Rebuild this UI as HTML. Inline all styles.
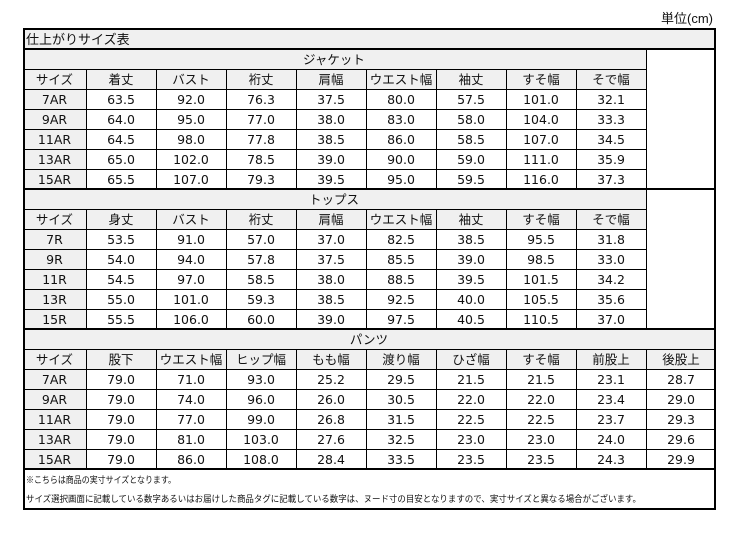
<!DOCTYPE html>
<html><head><meta charset="utf-8"><style>
html,body{margin:0;padding:0;background:#fff;}
svg{display:block;}
text{font-family:"Liberation Sans","Noto Sans CJK JP",sans-serif;fill:#111;}
.c{text-anchor:middle;font-size:12.5px;font-family:"DejaVu Sans","Noto Sans CJK JP",sans-serif;}
.h{text-anchor:middle;font-size:12.5px;}
</style></head><body>
<svg width="739" height="533" viewBox="0 0 739 533" xmlns="http://www.w3.org/2000/svg">
<rect x="23" y="29" width="693" height="20" fill="#f0f0f0"/>
<rect x="23" y="49" width="623" height="40" fill="#f0f0f0"/>
<rect x="23" y="89" width="63" height="100" fill="#f0f0f0"/>
<rect x="23" y="189" width="623" height="40" fill="#f0f0f0"/>
<rect x="23" y="229" width="63" height="100" fill="#f0f0f0"/>
<rect x="23" y="329" width="693" height="40" fill="#f0f0f0"/>
<rect x="23" y="369" width="63" height="100" fill="#f0f0f0"/>

<g stroke="#000" stroke-width="1" shape-rendering="crispEdges">
<line x1="23" y1="69.5" x2="646" y2="69.5"/>
<line x1="23" y1="89.5" x2="646" y2="89.5"/>
<line x1="23" y1="109.5" x2="646" y2="109.5"/>
<line x1="23" y1="129.5" x2="646" y2="129.5"/>
<line x1="23" y1="149.5" x2="646" y2="149.5"/>
<line x1="23" y1="169.5" x2="646" y2="169.5"/>
<line x1="23" y1="209.5" x2="646" y2="209.5"/>
<line x1="23" y1="229.5" x2="646" y2="229.5"/>
<line x1="23" y1="249.5" x2="646" y2="249.5"/>
<line x1="23" y1="269.5" x2="646" y2="269.5"/>
<line x1="23" y1="289.5" x2="646" y2="289.5"/>
<line x1="23" y1="309.5" x2="646" y2="309.5"/>
<line x1="23" y1="349.5" x2="716" y2="349.5"/>
<line x1="23" y1="369.5" x2="716" y2="369.5"/>
<line x1="23" y1="389.5" x2="716" y2="389.5"/>
<line x1="23" y1="409.5" x2="716" y2="409.5"/>
<line x1="23" y1="429.5" x2="716" y2="429.5"/>
<line x1="23" y1="449.5" x2="716" y2="449.5"/>
<line x1="86.5" y1="69" x2="86.5" y2="189"/><line x1="156.5" y1="69" x2="156.5" y2="189"/>
<line x1="226.5" y1="69" x2="226.5" y2="189"/><line x1="296.5" y1="69" x2="296.5" y2="189"/>
<line x1="366.5" y1="69" x2="366.5" y2="189"/><line x1="436.5" y1="69" x2="436.5" y2="189"/>
<line x1="506.5" y1="69" x2="506.5" y2="189"/><line x1="576.5" y1="69" x2="576.5" y2="189"/>
<line x1="646.5" y1="49" x2="646.5" y2="189"/>
<line x1="86.5" y1="209" x2="86.5" y2="329"/><line x1="156.5" y1="209" x2="156.5" y2="329"/>
<line x1="226.5" y1="209" x2="226.5" y2="329"/><line x1="296.5" y1="209" x2="296.5" y2="329"/>
<line x1="366.5" y1="209" x2="366.5" y2="329"/><line x1="436.5" y1="209" x2="436.5" y2="329"/>
<line x1="506.5" y1="209" x2="506.5" y2="329"/><line x1="576.5" y1="209" x2="576.5" y2="329"/>
<line x1="646.5" y1="189" x2="646.5" y2="329"/>
<line x1="86.5" y1="349" x2="86.5" y2="469"/><line x1="156.5" y1="349" x2="156.5" y2="469"/>
<line x1="226.5" y1="349" x2="226.5" y2="469"/><line x1="296.5" y1="349" x2="296.5" y2="469"/>
<line x1="366.5" y1="349" x2="366.5" y2="469"/><line x1="436.5" y1="349" x2="436.5" y2="469"/>
<line x1="506.5" y1="349" x2="506.5" y2="469"/><line x1="576.5" y1="349" x2="576.5" y2="469"/>
<line x1="646.5" y1="349" x2="646.5" y2="469"/>
</g>
<g stroke="#000" stroke-width="2" fill="none" shape-rendering="crispEdges">
<line x1="23" y1="49" x2="716" y2="49"/>
<line x1="23" y1="189" x2="716" y2="189"/>
<line x1="23" y1="329" x2="716" y2="329"/>
<line x1="23" y1="469" x2="716" y2="469"/>
<rect x="24" y="29" width="691" height="480"/>
</g>

<text x="713" y="23" style="font-size:13px;text-anchor:end">単位(cm)</text>
<text x="26" y="44" style="font-size:13px">仕上がりサイズ表</text>

<text class="h" x="334" y="64">ジャケット</text>
<text class="h" x="54.5" y="84">サイズ</text><text class="h" x="121" y="84">着丈</text><text class="h" x="191" y="84">バスト</text><text class="h" x="261" y="84">裄丈</text><text class="h" x="331" y="84">肩幅</text><text class="h" x="401" y="84">ウエスト幅</text><text class="h" x="471" y="84">袖丈</text><text class="h" x="541" y="84">すそ幅</text><text class="h" x="611" y="84">そで幅</text>
<text class="c" x="54.5" y="104">7AR</text><text class="c" x="121" y="104">63.5</text><text class="c" x="191" y="104">92.0</text><text class="c" x="261" y="104">76.3</text><text class="c" x="331" y="104">37.5</text><text class="c" x="401" y="104">80.0</text><text class="c" x="471" y="104">57.5</text><text class="c" x="541" y="104">101.0</text><text class="c" x="611" y="104">32.1</text>
<text class="c" x="54.5" y="124">9AR</text><text class="c" x="121" y="124">64.0</text><text class="c" x="191" y="124">95.0</text><text class="c" x="261" y="124">77.0</text><text class="c" x="331" y="124">38.0</text><text class="c" x="401" y="124">83.0</text><text class="c" x="471" y="124">58.0</text><text class="c" x="541" y="124">104.0</text><text class="c" x="611" y="124">33.3</text>
<text class="c" x="54.5" y="144">11AR</text><text class="c" x="121" y="144">64.5</text><text class="c" x="191" y="144">98.0</text><text class="c" x="261" y="144">77.8</text><text class="c" x="331" y="144">38.5</text><text class="c" x="401" y="144">86.0</text><text class="c" x="471" y="144">58.5</text><text class="c" x="541" y="144">107.0</text><text class="c" x="611" y="144">34.5</text>
<text class="c" x="54.5" y="164">13AR</text><text class="c" x="121" y="164">65.0</text><text class="c" x="191" y="164">102.0</text><text class="c" x="261" y="164">78.5</text><text class="c" x="331" y="164">39.0</text><text class="c" x="401" y="164">90.0</text><text class="c" x="471" y="164">59.0</text><text class="c" x="541" y="164">111.0</text><text class="c" x="611" y="164">35.9</text>
<text class="c" x="54.5" y="184">15AR</text><text class="c" x="121" y="184">65.5</text><text class="c" x="191" y="184">107.0</text><text class="c" x="261" y="184">79.3</text><text class="c" x="331" y="184">39.5</text><text class="c" x="401" y="184">95.0</text><text class="c" x="471" y="184">59.5</text><text class="c" x="541" y="184">116.0</text><text class="c" x="611" y="184">37.3</text>

<text class="h" x="334" y="204">トップス</text>
<text class="h" x="54.5" y="224">サイズ</text><text class="h" x="121" y="224">身丈</text><text class="h" x="191" y="224">バスト</text><text class="h" x="261" y="224">裄丈</text><text class="h" x="331" y="224">肩幅</text><text class="h" x="401" y="224">ウエスト幅</text><text class="h" x="471" y="224">袖丈</text><text class="h" x="541" y="224">すそ幅</text><text class="h" x="611" y="224">そで幅</text>
<text class="c" x="54.5" y="244">7R</text><text class="c" x="121" y="244">53.5</text><text class="c" x="191" y="244">91.0</text><text class="c" x="261" y="244">57.0</text><text class="c" x="331" y="244">37.0</text><text class="c" x="401" y="244">82.5</text><text class="c" x="471" y="244">38.5</text><text class="c" x="541" y="244">95.5</text><text class="c" x="611" y="244">31.8</text>
<text class="c" x="54.5" y="264">9R</text><text class="c" x="121" y="264">54.0</text><text class="c" x="191" y="264">94.0</text><text class="c" x="261" y="264">57.8</text><text class="c" x="331" y="264">37.5</text><text class="c" x="401" y="264">85.5</text><text class="c" x="471" y="264">39.0</text><text class="c" x="541" y="264">98.5</text><text class="c" x="611" y="264">33.0</text>
<text class="c" x="54.5" y="284">11R</text><text class="c" x="121" y="284">54.5</text><text class="c" x="191" y="284">97.0</text><text class="c" x="261" y="284">58.5</text><text class="c" x="331" y="284">38.0</text><text class="c" x="401" y="284">88.5</text><text class="c" x="471" y="284">39.5</text><text class="c" x="541" y="284">101.5</text><text class="c" x="611" y="284">34.2</text>
<text class="c" x="54.5" y="304">13R</text><text class="c" x="121" y="304">55.0</text><text class="c" x="191" y="304">101.0</text><text class="c" x="261" y="304">59.3</text><text class="c" x="331" y="304">38.5</text><text class="c" x="401" y="304">92.5</text><text class="c" x="471" y="304">40.0</text><text class="c" x="541" y="304">105.5</text><text class="c" x="611" y="304">35.6</text>
<text class="c" x="54.5" y="324">15R</text><text class="c" x="121" y="324">55.5</text><text class="c" x="191" y="324">106.0</text><text class="c" x="261" y="324">60.0</text><text class="c" x="331" y="324">39.0</text><text class="c" x="401" y="324">97.5</text><text class="c" x="471" y="324">40.5</text><text class="c" x="541" y="324">110.5</text><text class="c" x="611" y="324">37.0</text>

<text class="h" x="369" y="344">パンツ</text>
<text class="h" x="54.5" y="364">サイズ</text><text class="h" x="121" y="364">股下</text><text class="h" x="191" y="364">ウエスト幅</text><text class="h" x="261" y="364">ヒップ幅</text><text class="h" x="331" y="364">もも幅</text><text class="h" x="401" y="364">渡り幅</text><text class="h" x="471" y="364">ひざ幅</text><text class="h" x="541" y="364">すそ幅</text><text class="h" x="611" y="364">前股上</text><text class="h" x="681" y="364">後股上</text>
<text class="c" x="54.5" y="384">7AR</text><text class="c" x="121" y="384">79.0</text><text class="c" x="191" y="384">71.0</text><text class="c" x="261" y="384">93.0</text><text class="c" x="331" y="384">25.2</text><text class="c" x="401" y="384">29.5</text><text class="c" x="471" y="384">21.5</text><text class="c" x="541" y="384">21.5</text><text class="c" x="611" y="384">23.1</text><text class="c" x="681" y="384">28.7</text>
<text class="c" x="54.5" y="404">9AR</text><text class="c" x="121" y="404">79.0</text><text class="c" x="191" y="404">74.0</text><text class="c" x="261" y="404">96.0</text><text class="c" x="331" y="404">26.0</text><text class="c" x="401" y="404">30.5</text><text class="c" x="471" y="404">22.0</text><text class="c" x="541" y="404">22.0</text><text class="c" x="611" y="404">23.4</text><text class="c" x="681" y="404">29.0</text>
<text class="c" x="54.5" y="424">11AR</text><text class="c" x="121" y="424">79.0</text><text class="c" x="191" y="424">77.0</text><text class="c" x="261" y="424">99.0</text><text class="c" x="331" y="424">26.8</text><text class="c" x="401" y="424">31.5</text><text class="c" x="471" y="424">22.5</text><text class="c" x="541" y="424">22.5</text><text class="c" x="611" y="424">23.7</text><text class="c" x="681" y="424">29.3</text>
<text class="c" x="54.5" y="444">13AR</text><text class="c" x="121" y="444">79.0</text><text class="c" x="191" y="444">81.0</text><text class="c" x="261" y="444">103.0</text><text class="c" x="331" y="444">27.6</text><text class="c" x="401" y="444">32.5</text><text class="c" x="471" y="444">23.0</text><text class="c" x="541" y="444">23.0</text><text class="c" x="611" y="444">24.0</text><text class="c" x="681" y="444">29.6</text>
<text class="c" x="54.5" y="464">15AR</text><text class="c" x="121" y="464">79.0</text><text class="c" x="191" y="464">86.0</text><text class="c" x="261" y="464">108.0</text><text class="c" x="331" y="464">28.4</text><text class="c" x="401" y="464">33.5</text><text class="c" x="471" y="464">23.5</text><text class="c" x="541" y="464">23.5</text><text class="c" x="611" y="464">24.3</text><text class="c" x="681" y="464">29.9</text>

<text x="26" y="483" style="font-size:9px" textLength="150" lengthAdjust="spacingAndGlyphs">※こちらは商品の実寸サイズとなります。</text>
<text x="26" y="502" style="font-size:9px" textLength="615" lengthAdjust="spacingAndGlyphs">サイズ選択画面に記載している数字あるいはお届けした商品タグに記載している数字は、ヌード寸の目安となりますので、実寸サイズと異なる場合がございます。</text>
</svg>
</body></html>
